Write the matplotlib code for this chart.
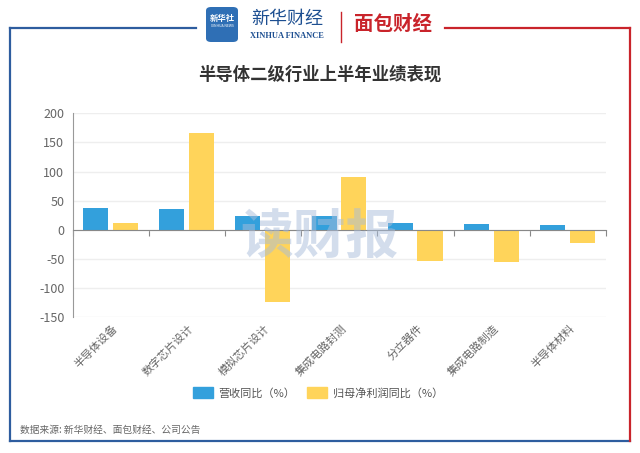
import matplotlib
matplotlib.use("Agg")
import matplotlib.pyplot as plt
from matplotlib.patches import Patch, FancyBboxPatch
from matplotlib.lines import Line2D
import numpy as np

plt.rcParams['font.family'] = ['Noto Sans CJK SC', 'DejaVu Sans']

categories = ["半导体设备", "数字芯片设计", "模拟芯片设计", "集成电路封测",
              "分立器件", "集成电路制造", "半导体材料"]
revenue_yoy = [38, 35, 24, 23, 11, 10, 9]
profit_yoy = [11, 166, -124, 91, -53, -55, -23]
yticks = [-150, -100, -50, 0, 50, 100, 150, 200]

BLUE = "#33a0dc"
YELLOW = "#ffd45a"
W, H = 640, 453


def fx(px):
    return px / W


def fy(py):
    return 1 - py / H


fig = plt.figure(figsize=(6.4, 4.53), dpi=100)
fig.patch.set_facecolor("white")

# frame
frame_blue = "#2e5d9f"
frame_red = "#c9242b"
fig.add_artist(Line2D([fx(10), fx(10)], [fy(28), fy(441)], color=frame_blue, lw=1.6))
fig.add_artist(Line2D([fx(10), fx(196)], [fy(28), fy(28)], color=frame_blue, lw=1.6))
fig.add_artist(Line2D([fx(10), fx(630)], [fy(441), fy(441)], color=frame_blue, lw=1.6))
fig.add_artist(Line2D([fx(630), fx(630)], [fy(28), fy(441)], color=frame_red, lw=1.6))
fig.add_artist(Line2D([fx(445), fx(630)], [fy(28), fy(28)], color=frame_red, lw=1.6))

# logos
fig.add_artist(FancyBboxPatch((fx(206), fy(42)), fx(32), fy(7) - fy(42),
                              boxstyle="round,pad=0,rounding_size=0.008",
                              fc="#2f6fb5", ec="none"))
fig.text(fx(222), fy(18), "新华社", color="white", fontsize=6, ha="center", va="center",
         fontweight="bold")
fig.text(fx(222), fy(26), "XINHUA NEWS", color="white", fontsize=2.5, ha="center", va="center")
fig.text(fx(287), fy(19), "新华财经", color="#1d4f91", fontsize=13, ha="center", va="center",
         style="italic")
fig.text(fx(287), fy(36), "XINHUA FINANCE", color="#1d4f91", fontsize=6, ha="center",
         va="center", family="Liberation Serif", fontweight="bold")
fig.add_artist(Line2D([fx(341), fx(341)], [fy(12), fy(42)], color="#c9242b", lw=1))
fig.text(fx(393), fy(24), "面包财经", color="#c9242b", fontsize=14, ha="center", va="center",
         fontweight="bold")

fig.text(0.5, fy(75), "半导体二级行业上半年业绩表现", fontsize=12.5, fontweight="bold",
         color="#333333", ha="center", va="center")

ax = fig.add_axes([fx(72.7), fy(317.3), fx(606) - fx(72.7), fy(113.3) - fy(317.3)])
x = np.arange(len(categories))
bw = 0.33
ax.bar(x - 0.2, revenue_yoy, bw, color=BLUE, zorder=3)
ax.bar(x + 0.19, profit_yoy, bw, color=YELLOW, zorder=3)

ax.set_xlim(-0.5, len(categories) - 0.5)
ax.set_ylim(-150, 200)
ax.set_yticks(yticks)
ax.set_yticklabels([str(v) for v in yticks])
ax.tick_params(axis="y", length=0, labelsize=9, labelcolor="#666666", pad=6)
ax.grid(axis="y", color="#eeeeee", lw=1, zorder=0)

for s in ["top", "right"]:
    ax.spines[s].set_visible(False)
ax.spines["left"].set_color("#999999")
ax.spines["bottom"].set_position(("data", 0))
ax.spines["bottom"].set_color("#888888")
ax.spines["bottom"].set_zorder(4)
ax.set_xticks(np.arange(len(categories) + 1) - 0.5)
ax.set_xticklabels([])
ax.tick_params(axis="x", length=4, color="#888888", direction="out")

for i, c in enumerate(categories):
    ax.annotate(c, xy=(i, -150), xytext=(1, -4), textcoords="offset points",
                rotation=45, ha="right", va="top", rotation_mode="anchor",
                fontsize=8, color="#666666", annotation_clip=False)

# watermark
fig.text(fx(319), fy(237), "读财报", fontsize=38, fontweight="bold", color="#a9bddb",
         alpha=0.5, ha="center", va="center", zorder=10)

handles = [Patch(color=BLUE, label="营收同比（%）"),
           Patch(color=YELLOW, label="归母净利润同比（%）")]
leg = fig.legend(handles=handles, loc="center", bbox_to_anchor=(fx(318), fy(393)),
                 ncol=2, frameon=False, fontsize=8, handlelength=1.8, handleheight=1.1,
                 handletextpad=0.5, columnspacing=1.1)
for t in leg.get_texts():
    t.set_color("#555555")

fig.text(fx(20), fy(430), "数据来源: 新华财经、面包财经、公司公告", fontsize=7, color="#666666",
         ha="left", va="center")

fig.savefig("out.png", dpi=100)
